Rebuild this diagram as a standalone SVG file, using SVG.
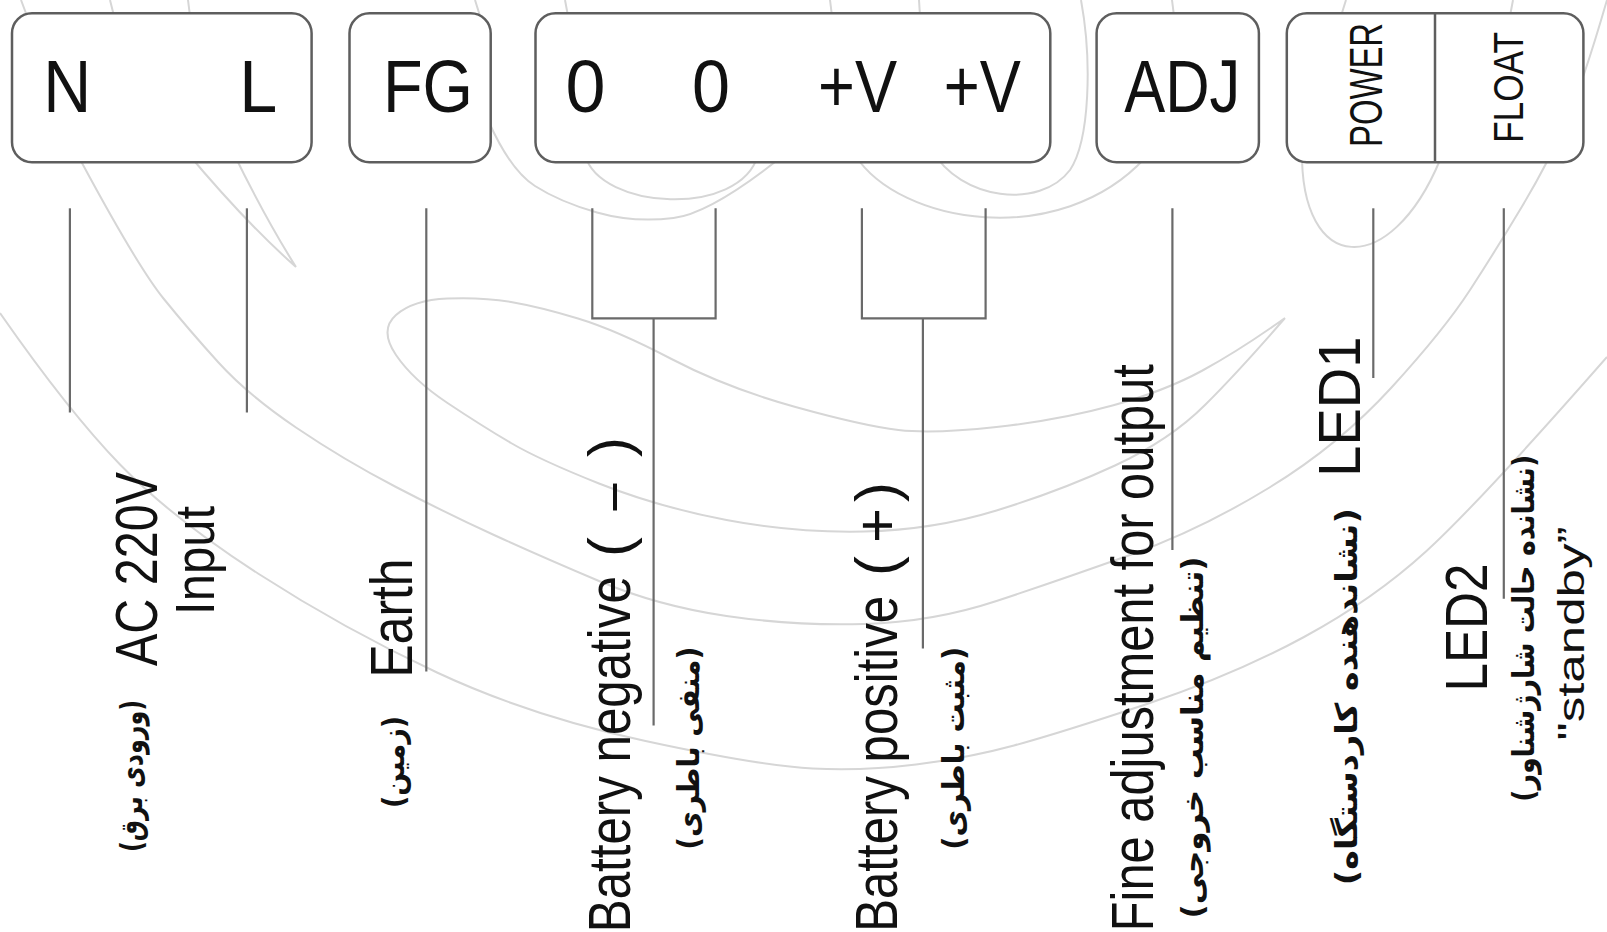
<svg xmlns="http://www.w3.org/2000/svg" width="1607" height="932" viewBox="0 0 1607 932">
<style>
.wm{fill:none;stroke:#d6d6d6;stroke-width:2}
.box{fill:#fff;stroke:#5e5e5e;stroke-width:2.5}
.con{fill:none;stroke:#6a6a6a;stroke-width:2.2}
.t{font-family:"Liberation Sans",Arial,sans-serif;fill:#111}
.big{font-size:74px;text-anchor:middle}
.led{font-size:46px;text-anchor:middle}
.lbl{font-size:60px;text-anchor:middle}
.fa{font-family:"DejaVu Sans",sans-serif;font-size:30px;font-weight:bold;text-anchor:middle;fill:#111}
</style>
<rect width="1607" height="932" fill="#fff"/>
<g id="watermark">
<path class="wm" d="M 0,313 Q 69,412 120.5,465 Q 172,518 258,573.5 Q 344,629 437,672.5 Q 530,716 645.5,741 Q 761,766 812.5,768.5 Q 864,771 916,764.5 Q 968,758 1014,745.5 Q 1060,733 1147,704 Q 1234,675 1304,637 Q 1374,599 1426.5,551 Q 1479,503 1607,357"/>
<path class="wm" d="M 70,140 L 82,163 Q 138,267 163.5,298.5 Q 189,330 218.5,362.5 Q 248,395 296,427.5 Q 344,460 396,487 Q 448,514 494,535 Q 540,556 599,581 Q 658,606 726.5,616 Q 795,626 864,624 Q 933,622 996.5,601 Q 1060,580 1130,555 Q 1200,530 1269.5,487.5 Q 1339,445 1391.5,387.5 Q 1444,330 1470,290 Q 1496,250 1522,206.5 Q 1548,163 1565.5,123 Q 1583,83 1607,0"/>
<path class="wm" d="M 1285,318 Q 1240,350 1202.5,370.5 Q 1165,391 1112.5,405.5 Q 1060,420 996.5,427 Q 933,434 898.5,430 Q 864,426 795.5,407 Q 727,388 671.5,359 Q 616,330 578,318.5 Q 540,307 511,302 Q 482,297 447.5,298.5 Q 413,300 396,315 Q 379,330 396,355 Q 413,380 447.5,403 Q 482,426 511,443 Q 540,460 599,483.5 Q 658,507 726.5,520 Q 795,533 864,531.5 Q 933,530 996.5,510.5 Q 1060,491 1115,465.5 Q 1170,440 1205,405 Q 1240,370 1285,318"/>
<path class="wm" d="M 185,150 Q 245,222 296,267 M 232,150 Q 265,218 296,267"/>
<path class="wm" d="M 585,155 C 600,210 740,218 758,155"/>
<path class="wm" d="M 488,120 Q 510,170 535,186 Q 560,202 597,212.5 Q 634,223 673.5,218 Q 713,213 790,150"/>
<path class="wm" d="M 855,155 C 900,225 1060,250 1145,158"/>
<path class="wm" d="M 932,150 C 960,200 1040,210 1070,170 C 1090,140 1092,60 1081,0"/>
<path class="wm" d="M 1302,150 C 1300,275 1390,280 1440,160"/>
<path class="wm" d="M 21,0 L 27,16 M 110,0 L 114,16 M 188,0 L 190,16 M 475,0 L 480,16 M 565,0 L 568,16 M 830,0 L 832,16 M 919,0 L 920,16 M 1172,0 L 1174,16 M 1346,0 L 1341,16 M 1513,0 L 1510,16"/>
</g>
<g id="connectors">
<path class="con" d="M 69.9,208.3 V 412.5"/>
<path class="con" d="M 246.9,208.3 V 412.5"/>
<path class="con" d="M 426.3,208.3 V 671.6"/>
<path class="con" d="M 592.3,208.3 V 318.3 H 715.6 V 208.3 M 653.6,318.3 V 725.4"/>
<path class="con" d="M 861.9,208.3 V 318.3 H 985.6 V 208.3 M 922.9,318.3 V 648.6"/>
<path class="con" d="M 1172.4,208.3 V 550"/>
<path class="con" d="M 1373.3,208.3 V 378"/>
<path class="con" d="M 1503.8,208.3 V 598.7"/>
</g>
<g id="node-NL">
<rect class="box" x="12" y="13.3" width="299.6" height="149" rx="20"/>
<text class="t big" x="67.2" y="111.7" textLength="48" lengthAdjust="spacingAndGlyphs">N</text>
<text class="t big" x="258.3" y="111.7" textLength="38" lengthAdjust="spacingAndGlyphs">L</text>
</g>
<g id="node-FG">
<rect class="box" x="349.5" y="13.3" width="141.2" height="149" rx="20"/>
<text class="t big" x="427.9" y="111.7" textLength="90" lengthAdjust="spacingAndGlyphs">FG</text>
</g>
<g id="node-DC">
<rect class="box" x="535.5" y="13.3" width="514.8" height="149" rx="20"/>
<text class="t big" x="585.4" y="111.7" textLength="40" lengthAdjust="spacingAndGlyphs">0</text>
<text class="t big" x="711.1" y="111.7" textLength="38" lengthAdjust="spacingAndGlyphs">0</text>
<text class="t big" x="857.5" y="111.7" textLength="79" lengthAdjust="spacingAndGlyphs">+V</text>
<text class="t big" x="982.3" y="111.7" textLength="77" lengthAdjust="spacingAndGlyphs">+V</text>
</g>
<g id="node-ADJ">
<rect class="box" x="1096.6" y="13.3" width="162.3" height="149" rx="20"/>
<text class="t big" x="1182.2" y="111.7" textLength="116" lengthAdjust="spacingAndGlyphs">ADJ</text>
</g>
<g id="node-LED">
<rect class="box" x="1286.8" y="13.3" width="296.6" height="149" rx="20"/>
<path class="box" d="M 1435,13.3 V 162.3"/>
<text class="t led" transform="translate(1382.3,85) rotate(-90)" textLength="124" lengthAdjust="spacingAndGlyphs">POWER</text>
<text class="t led" style="font-size:43px" transform="translate(1522.7,87.5) rotate(-90)" textLength="111" lengthAdjust="spacingAndGlyphs">FLOAT</text>
</g>
<g id="label-ac">
<text class="t lbl" transform="translate(156.7,569) rotate(-90)" textLength="194" lengthAdjust="spacingAndGlyphs">AC 220V</text>
<text class="t lbl" style="font-size:56px" transform="translate(214,560.4) rotate(-90)" textLength="109" lengthAdjust="spacingAndGlyphs">Input</text>
<text class="fa" transform="translate(142,776) rotate(-90)" textLength="152" lengthAdjust="spacingAndGlyphs">(ورودی برق)</text>
</g>
<g id="label-earth">
<text class="t lbl" transform="translate(411.5,618) rotate(-90)" textLength="119" lengthAdjust="spacingAndGlyphs">Earth</text>
<text class="fa" transform="translate(404,762) rotate(-90)" textLength="92" lengthAdjust="spacingAndGlyphs">(زمین)</text>
</g>
<g id="label-neg">
<text class="t lbl" transform="translate(630,754.2) rotate(-90)" textLength="356" lengthAdjust="spacingAndGlyphs">Battery negative</text>
<text class="t lbl" transform="translate(630,547) rotate(-90)">(</text>
<text class="t lbl" transform="translate(630,497) rotate(-90)" textLength="27" lengthAdjust="spacingAndGlyphs">–</text>
<text class="t lbl" transform="translate(630,447) rotate(-90)">)</text>
<text class="fa" transform="translate(699,748.3) rotate(-90)" textLength="203" lengthAdjust="spacingAndGlyphs">(منفی باطری)</text>
</g>
<g id="label-pos">
<text class="t lbl" transform="translate(897,763.8) rotate(-90)" textLength="336" lengthAdjust="spacingAndGlyphs">Battery positive</text>
<text class="t lbl" transform="translate(897,566) rotate(-90)">(</text>
<text class="t lbl" transform="translate(897,525.5) rotate(-90)">+</text>
<text class="t lbl" transform="translate(897,492) rotate(-90)">)</text>
<text class="fa" transform="translate(964,748.3) rotate(-90)" textLength="203" lengthAdjust="spacingAndGlyphs">(مثبت باطری)</text>
</g>
<g id="label-adj">
<text class="t lbl" transform="translate(1152.5,647.7) rotate(-90)" textLength="567" lengthAdjust="spacingAndGlyphs">Fine adjustment for output</text>
<text class="fa" transform="translate(1203,737.5) rotate(-90)" textLength="362" lengthAdjust="spacingAndGlyphs">(تنظیم مناسب خروجی)</text>
</g>
<g id="label-led1">
<text class="t lbl" transform="translate(1360,406.7) rotate(-90)" textLength="140" lengthAdjust="spacingAndGlyphs">LED1</text>
<text class="fa" transform="translate(1357,696.7) rotate(-90)" textLength="377" lengthAdjust="spacingAndGlyphs">(نشاندهنده کاردستگاه)</text>
</g>
<g id="label-led2">
<text class="t lbl" transform="translate(1487.4,627.5) rotate(-90)" textLength="128" lengthAdjust="spacingAndGlyphs">LED2</text>
<text class="fa" transform="translate(1534,628.3) rotate(-90)" textLength="347" lengthAdjust="spacingAndGlyphs">(نشانده حالت شارژشناور)</text>
<text class="t lbl" style="font-size:37px" transform="translate(1584,633.5) rotate(-90)" textLength="214" lengthAdjust="spacingAndGlyphs">"standby”</text>
</g>
</svg>
